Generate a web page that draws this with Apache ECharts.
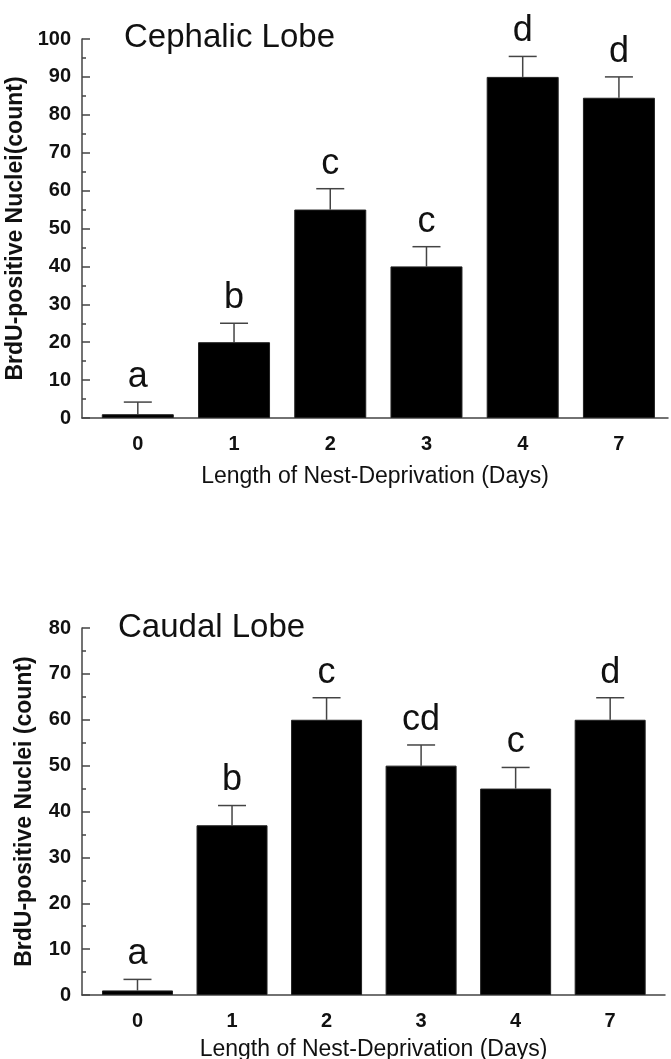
<!DOCTYPE html>
<html>
<head>
<meta charset="utf-8">
<script src="https://cdn.jsdelivr.net/npm/echarts@6/dist/echarts.min.js"></script>
<style>
html,body{margin:0;padding:0;background:#fff;}
#chart{width:671px;height:1059px;}
</style>
</head>
<body>
<div id="chart"></div>
<script>
// ---- data ----
const categories = ['0', '1', '2', '3', '4', '7'];
const cephalicMeans = [1, 20, 55, 40, 90, 84.5];
const cephalicErrors = [3.2, 5, 5.5, 5.2, 5.4, 5.5];
const cephalicLetters = ['a', 'b', 'c', 'c', 'd', 'd'];
const caudalMeans = [1, 37, 60, 50, 45, 60];
const caudalErrors = [2.4, 4.3, 4.8, 4.5, 4.6, 4.8];
const caudalLetters = ['a', 'b', 'c', 'cd', 'c', 'd'];
const cephalicTicks = [0, 10, 20, 30, 40, 50, 60, 70, 80, 90, 100];
const caudalTicks = [0, 10, 20, 30, 40, 50, 60, 70, 80];

const FONT = "'Liberation Sans', Arial, sans-serif";
const INK = '#111';
const AXIS = '#444';

function barData(means) { return means.map((v, i) => [i, v]); }
function errData(means, errs) { return means.map((v, i) => [i, v, errs[i]]); }

function errRender(letters) {
  return function (params, api) {
    const i = api.value(0), m = api.value(1), e = api.value(2);
    const base = api.coord([i, m]);
    const top = api.coord([i, m + e]);
    const half = 14;
    return {
      type: 'group',
      children: [
        { type: 'line', shape: { x1: base[0], y1: base[1], x2: top[0], y2: top[1] }, style: { stroke: AXIS, lineWidth: 1.5 } },
        { type: 'line', shape: { x1: top[0] - half, y1: top[1], x2: top[0] + half, y2: top[1] }, style: { stroke: AXIS, lineWidth: 1.5 } },
        { type: 'text', x: top[0], y: top[1] - 7, style: { text: letters[params.dataIndex], font: '36px ' + FONT, fill: INK, align: 'center', verticalAlign: 'bottom' } }
      ]
    };
  };
}

function xAxisCfg(gridIndex, min, max, nameGap) {
  return {
    type: 'value', gridIndex, min, max,
    name: 'Length of Nest-Deprivation (Days)', nameLocation: 'middle', nameGap,
    nameTextStyle: { fontFamily: FONT, fontSize: 23, color: INK },
    axisLine: { onZero: false, lineStyle: { color: AXIS, width: 1.5 } },
    axisTick: { show: false },
    splitLine: { show: false },
    axisLabel: {
      customValues: categories.map((c, i) => i),
      formatter: v => categories[Math.round(v)],
      fontFamily: FONT, fontSize: 20, fontWeight: 'bold', color: INK, margin: 16
    }
  };
}

function yAxisCfg(gridIndex, max, name, ticks) {
  return {
    type: 'value', gridIndex, min: ticks[0], max, interval: ticks[1] - ticks[0],
    name, nameLocation: 'middle', nameGap: 46,
    nameTextStyle: { fontFamily: FONT, fontSize: 23, fontWeight: 'bold', color: INK },
    axisLine: { show: true, onZero: false, lineStyle: { color: AXIS, width: 1.5 } },
    axisTick: { show: true, inside: true, length: 8, lineStyle: { color: AXIS, width: 1.5 } },
    minorTick: { show: true, splitNumber: 2, length: 4, lineStyle: { color: AXIS, width: 1.5 } },
    splitLine: { show: false },
    axisLabel: { fontFamily: FONT, fontSize: 20, fontWeight: 'bold', color: INK, margin: 11 }
  };
}

const chart = echarts.init(document.getElementById('chart'), null, { renderer: 'canvas' });
chart.setOption({
  backgroundColor: '#fff',
  animation: false,
  title: [
    { text: 'Cephalic Lobe', left: 119, top: 16, textStyle: { fontFamily: FONT, fontSize: 33, fontWeight: 'normal', color: INK } },
    { text: 'Caudal Lobe', left: 113, top: 606, textStyle: { fontFamily: FONT, fontSize: 33, fontWeight: 'normal', color: INK } }
  ],
  grid: [
    { left: 82, top: 39, width: 586, height: 379, containLabel: false, outerBoundsMode: 'none' },
    { left: 82, top: 628, width: 583, height: 367, containLabel: false, outerBoundsMode: 'none' }
  ],
  xAxis: [
    xAxisCfg(0, -0.58, 5.51, 47),
    xAxisCfg(1, -0.587, 5.58, 43)
  ],
  yAxis: [
    yAxisCfg(0, 100, 'BrdU-positive Nuclei(count)', cephalicTicks),
    yAxisCfg(1, 80, 'BrdU-positive Nuclei (count)', caudalTicks)
  ],
  series: [
    { type: 'bar', xAxisIndex: 0, yAxisIndex: 0, data: barData(cephalicMeans), barWidth: 72,
      itemStyle: { color: '#000', borderColor: '#222', borderWidth: 1 }, z: 2 },
    { type: 'custom', xAxisIndex: 0, yAxisIndex: 0, data: errData(cephalicMeans, cephalicErrors),
      renderItem: errRender(cephalicLetters), z: 1 },
    { type: 'bar', xAxisIndex: 1, yAxisIndex: 1, data: barData(caudalMeans), barWidth: 71,
      itemStyle: { color: '#000', borderColor: '#222', borderWidth: 1 }, z: 2 },
    { type: 'custom', xAxisIndex: 1, yAxisIndex: 1, data: errData(caudalMeans, caudalErrors),
      renderItem: errRender(caudalLetters), z: 1 }
  ]
});
</script>
</body>
</html>
